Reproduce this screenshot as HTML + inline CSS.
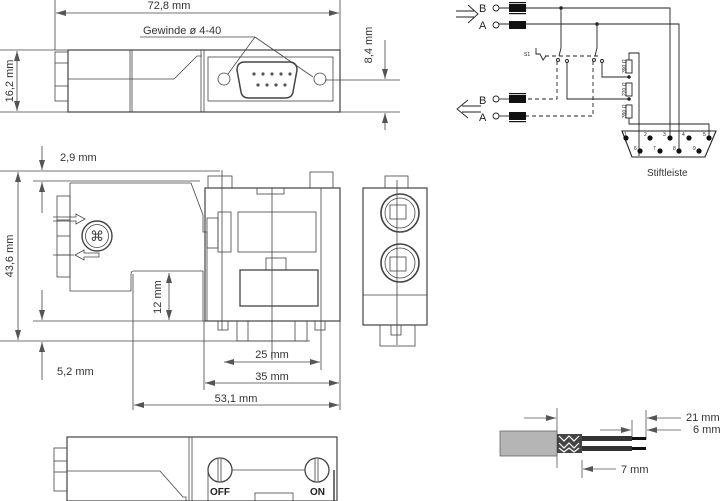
<!DOCTYPE html>
<html><head><meta charset="utf-8"><style>
html,body{margin:0;padding:0;background:#fff;}
svg{display:block;font-family:"Liberation Sans",sans-serif;}
</style></head><body>
<svg width="720" height="501" viewBox="0 0 720 501" xmlns="http://www.w3.org/2000/svg">
<defs>
<marker id="ar" viewBox="0 0 10 6" refX="10" refY="3" markerWidth="10" markerHeight="6" orient="auto-start-reverse" markerUnits="userSpaceOnUse"><path d="M0,0 L10,3 L0,6z" fill="#555"/></marker>
</defs>
<g fill="none" stroke="#444" stroke-width="0.8">
<!-- TOP VIEW -->
<line x1="55" y1="0" x2="55" y2="50"/><line x1="340" y1="0" x2="340" y2="50"/>
<line x1="56" y1="13" x2="339" y2="13" marker-start="url(#ar)" marker-end="url(#ar)"/>
<rect x="55" y="52" width="13" height="49"/>
<line x1="55" y1="63" x2="68" y2="63"/><line x1="55" y1="86" x2="68" y2="86"/>
<rect x="68" y="50" width="272" height="62" stroke-width="1.2"/>
<line x1="130" y1="50" x2="130" y2="112"/><line x1="132" y1="50" x2="132" y2="112"/>
<line x1="201" y1="50" x2="201" y2="112"/><line x1="204" y1="50" x2="204" y2="112"/>
<rect x="208" y="57" width="125" height="44"/>
<path d="M245,62 h44 q8,0 8,8 l-4,22 q-1,6 -8,6 h-36 q-7,0 -8,-6 l-4,-22 q0,-8 8,-8z" stroke-width="1.5"/>
<circle cx="224" cy="79" r="6"/><circle cx="320" cy="79" r="6"/>
<line x1="140" y1="37" x2="255" y2="37"/>
<line x1="255" y1="37" x2="228" y2="74"/><line x1="255" y1="37" x2="313" y2="77"/>
<polyline points="68,79 174,79 197,56 202,56"/>
<line x1="0" y1="50" x2="68" y2="50"/><line x1="0" y1="112" x2="68" y2="112"/>
<line x1="17" y1="51" x2="17" y2="111" marker-start="url(#ar)" marker-end="url(#ar)"/>
<line x1="325" y1="80" x2="400" y2="80"/><line x1="340" y1="112" x2="400" y2="112"/>
<line x1="385" y1="40" x2="385" y2="79" marker-end="url(#ar)"/>
<line x1="385" y1="130" x2="385" y2="113" marker-end="url(#ar)"/>

<!-- SIDE VIEW -->
<line x1="0" y1="171" x2="220" y2="171"/><line x1="33" y1="181" x2="200" y2="181"/>
<line x1="33" y1="321" x2="205" y2="321"/><line x1="0" y1="341" x2="310" y2="341"/>
<line x1="18" y1="172" x2="18" y2="340" marker-start="url(#ar)" marker-end="url(#ar)"/>
<line x1="42" y1="146" x2="42" y2="170" marker-end="url(#ar)"/>
<line x1="42" y1="213" x2="42" y2="182" marker-end="url(#ar)"/>
<line x1="42" y1="290" x2="42" y2="320" marker-end="url(#ar)"/>
<line x1="42" y1="380" x2="42" y2="342" marker-end="url(#ar)"/>
<rect x="57" y="196" width="13" height="81"/>
<line x1="57" y1="220" x2="70" y2="220"/><line x1="57" y1="236" x2="70" y2="236"/><line x1="57" y1="255" x2="70" y2="255"/>
<path d="M70,183 H191 L203,215 V232 H207 V321"/>
<path d="M70,183 V291 H131 V274 q0,-3 3,-3 H203 V321" />
<circle cx="97" cy="236" r="15" stroke-width="1.4"/><circle cx="97" cy="236" r="11.5"/>
<text x="97" y="241" font-size="14" text-anchor="middle" fill="#444" stroke="none">⌘</text>
<path d="M53,217 H76 V214 L85,219 L76,224 V221 H53"/>
<path d="M53,255 H74 M99,253 H84 V250 L75,255 L84,260 V257 H99z"/>
<rect x="205" y="188" width="135" height="133" stroke-width="1.2"/>
<rect x="208" y="176" width="24" height="12"/><rect x="310" y="172" width="23" height="16"/>
<rect x="257" y="188" width="27" height="6"/>
<rect x="238" y="212" width="78" height="40"/>
<rect x="240" y="270" width="78" height="36" stroke-width="1.3"/>
<rect x="266" y="258" width="20" height="12"/>
<rect x="218" y="212" width="13" height="40"/><rect x="207" y="218" width="11" height="30"/>
<line x1="222" y1="170" x2="222" y2="330"/><line x1="272" y1="188" x2="272" y2="360"/><line x1="321" y1="188" x2="321" y2="370"/>
<rect x="218" y="321" width="10" height="9"/><rect x="315" y="321" width="10" height="9"/>
<rect x="237" y="321" width="70" height="20"/>
<line x1="248" y1="321" x2="248" y2="341"/><line x1="295" y1="321" x2="295" y2="341"/>
<line x1="169" y1="273" x2="169" y2="320" marker-start="url(#ar)" marker-end="url(#ar)"/>
<line x1="204" y1="321" x2="204" y2="390"/><line x1="340" y1="321" x2="340" y2="410"/><line x1="133" y1="274" x2="133" y2="410"/>
<line x1="224" y1="362" x2="320" y2="362" marker-start="url(#ar)" marker-end="url(#ar)"/>
<line x1="205" y1="383" x2="339" y2="383" marker-start="url(#ar)" marker-end="url(#ar)"/>
<line x1="134" y1="405" x2="339" y2="405" marker-start="url(#ar)" marker-end="url(#ar)"/>

<!-- END VIEW -->
<rect x="363" y="188" width="64" height="137" stroke-width="1.2"/>
<line x1="363" y1="295" x2="427" y2="295"/>
<rect x="385" y="176" width="23" height="12"/>
<rect x="380" y="325" width="35" height="21"/><rect x="391" y="325" width="10" height="10"/>
<line x1="397" y1="180" x2="397" y2="345"/>
<circle cx="400" cy="213" r="19" stroke-width="1.6"/><circle cx="400" cy="263" r="19" stroke-width="1.6"/>
<circle cx="400" cy="213" r="15"/><circle cx="400" cy="263" r="15"/>
<rect x="390" y="205" width="16" height="14"/><rect x="390" y="257" width="16" height="14"/>

<!-- BOTTOM VIEW -->
<rect x="67" y="437" width="270" height="64" stroke-width="1.2"/>
<rect x="54" y="448" width="13" height="43"/>
<line x1="54" y1="461" x2="67" y2="461"/><line x1="54" y1="472" x2="67" y2="472"/>
<line x1="189" y1="437" x2="189" y2="501"/><line x1="192" y1="437" x2="192" y2="501"/>
<polyline points="67,471 160,471 183,497 186,497 186,501"/>
<circle cx="220" cy="470" r="12" stroke-width="1.3"/><circle cx="317" cy="470" r="12" stroke-width="1.3"/>
<line x1="218" y1="459" x2="218" y2="481"/><line x1="221" y1="459" x2="221" y2="481"/>
<line x1="315" y1="459" x2="315" y2="481"/><line x1="318" y1="459" x2="318" y2="481"/>
<line x1="232" y1="470" x2="305" y2="470"/>
<line x1="208" y1="470" x2="208" y2="501"/><line x1="334" y1="470" x2="334" y2="501" stroke-width="1.5"/>
<rect x="255" y="493" width="38" height="8"/>

<!-- CIRCUIT -->
<g stroke="#222" stroke-width="0.9">
<path d="M456,11 H474 M456,17 H474 M468,5 L478,14 L468,23"/>
<path d="M481,106 H462 M481,112 H462 M468,100 L457,109 L468,118"/>
<circle cx="496" cy="8" r="3"/><circle cx="496" cy="25" r="3"/><circle cx="496" cy="99" r="3"/><circle cx="496" cy="116" r="3"/>
<polyline points="499,8 670,8 670,138"/><polyline points="499,24 679,24 679,150"/>
<line x1="499" y1="99" x2="510" y2="99"/><line x1="499" y1="116" x2="510" y2="116"/>
<polyline points="561,8 561,48 559,56"/><polyline points="597,24 597,48 595,56"/>
<circle cx="558" cy="60" r="1.5"/><circle cx="567" cy="61" r="1.5"/><circle cx="594" cy="60" r="1.5"/><circle cx="602" cy="61" r="1.5"/>
<polyline points="567,62 567,99 629,99"/><polyline points="602,62 602,77 629,77"/>
<path d="M536,48 v6 h4 l3,6 l3,-4" />
<path d="M545,56 H600" stroke-dasharray="4,3"/>
<polyline points="557,61 557,99 525,99" stroke-dasharray="4,3"/>
<polyline points="593,61 593,116 525,116" stroke-dasharray="4,3"/>
<rect x="626" y="60" width="6" height="13"/><rect x="626" y="83" width="6" height="13"/><rect x="626" y="105" width="6" height="13"/>
<polyline points="629,60 629,53 639,53 639,156"/>
<polyline points="629,118 629,124 709,124 709,138"/>
<circle cx="629" cy="77" r="1.3" fill="#222"/><circle cx="629" cy="99" r="1.3" fill="#222"/>
<circle cx="561" cy="8" r="1.3" fill="#222"/><circle cx="597" cy="24" r="1.3" fill="#222"/>
<path d="M622,131 H716 L705,157 H632z" stroke-width="1.1"/>
</g>
</g>
<g fill="#555">
<circle cx="254" cy="74" r="1.6"/><circle cx="263" cy="74" r="1.6"/><circle cx="272" cy="74" r="1.6"/><circle cx="281" cy="74" r="1.6"/><circle cx="290" cy="74" r="1.6"/>
<circle cx="258" cy="85" r="1.6"/><circle cx="267" cy="85" r="1.6"/><circle cx="276" cy="85" r="1.6"/><circle cx="285" cy="85" r="1.6"/>
</g>
<g fill="#111">
<rect x="509" y="4" width="17" height="8"/><rect x="509" y="21" width="17" height="8"/>
<rect x="509" y="95" width="17" height="8"/><rect x="509" y="112" width="17" height="8"/>
<rect x="509" y="2" width="17" height="1.2"/><rect x="509" y="13" width="17" height="1.2"/>
<rect x="509" y="93" width="17" height="1.2"/><rect x="509" y="121" width="17" height="1.2"/>
<circle cx="626" cy="138" r="2.6"/><circle cx="650" cy="138" r="2.6"/><circle cx="670" cy="138" r="2.6"/><circle cx="689" cy="138" r="2.6"/><circle cx="709" cy="138" r="2.6"/>
<circle cx="640" cy="151" r="2.6"/><circle cx="660" cy="151" r="2.6"/><circle cx="679" cy="151" r="2.6"/><circle cx="699" cy="151" r="2.6"/>
</g>
<g fill="#222" font-size="5">
<text x="624" y="136">1</text><text x="644" y="136">2</text><text x="663" y="136">3</text><text x="682" y="136">4</text><text x="703" y="136">5</text>
<text x="634" y="150">6</text><text x="653" y="150">7</text><text x="673" y="150">8</text><text x="693" y="150">9</text>
<text x="524" y="56">S1</text>
<text transform="translate(626,73) rotate(-90)">390 Ω</text>
<text transform="translate(626,96) rotate(-90)">220 Ω</text>
<text transform="translate(626,118) rotate(-90)">390 Ω</text>
</g>
<g fill="#222" font-size="11">
<text x="479" y="12">B</text><text x="479" y="29">A</text><text x="479" y="104">B</text><text x="479" y="121">A</text>
</g>
<text x="647" y="176" font-size="10" fill="#333">Stiftleiste</text>

<!-- CABLE -->
<g fill="none" stroke="#555" stroke-width="0.8">
<line x1="557" y1="408" x2="557" y2="468"/><line x1="582" y1="460" x2="582" y2="478"/>
<line x1="632" y1="420" x2="632" y2="440"/><line x1="646" y1="410" x2="646" y2="440"/>
<line x1="524" y1="418" x2="556" y2="418" marker-end="url(#ar)"/>
<line x1="600" y1="430" x2="631" y2="430" marker-end="url(#ar)"/>
<line x1="681" y1="418" x2="647" y2="418" marker-end="url(#ar)"/>
<line x1="681" y1="430" x2="647" y2="430" marker-end="url(#ar)"/>
<line x1="616" y1="469" x2="583" y2="469" marker-end="url(#ar)"/>
</g>
<rect x="500" y="431" width="57" height="25" fill="#b5b5b5" stroke="#666" stroke-width="0.8"/>
<rect x="557" y="434" width="25" height="19" fill="#444"/>
<path d="M559,436 l5,5 l5,-5 l5,5 l5,-5 M559,443 l5,5 l5,-5 l5,5 l5,-5 M559,448 l5,4 l5,-4 l5,4 l5,-4" stroke="#fff" stroke-width="1.2" fill="none"/>
<rect x="582" y="436" width="50" height="5" fill="#333"/><rect x="582" y="446" width="50" height="5" fill="#333"/>
<rect x="632" y="437" width="14" height="3" fill="#111"/><rect x="632" y="447" width="14" height="3" fill="#111"/>

<!-- TEXT -->
<g fill="#333" font-size="11">
<text x="169" y="9" text-anchor="middle">72,8 mm</text>
<text x="143" y="34">Gewinde ø 4-40</text>
<text transform="translate(13,81) rotate(-90)" text-anchor="middle">16,2 mm</text>
<text transform="translate(372,45) rotate(-90)" text-anchor="middle">8,4 mm</text>
<text x="60" y="161">2,9 mm</text>
<text transform="translate(13,256) rotate(-90)" text-anchor="middle">43,6 mm</text>
<text transform="translate(161,297) rotate(-90)" text-anchor="middle">12 mm</text>
<text x="57" y="375">5,2 mm</text>
<text x="272" y="358" text-anchor="middle">25 mm</text>
<text x="272" y="380" text-anchor="middle">35 mm</text>
<text x="236" y="402" text-anchor="middle">53,1 mm</text>
<text x="686" y="421">21 mm</text><text x="693" y="433">6 mm</text>
<text x="621" y="473">7 mm</text>
</g>
<g fill="#222" font-size="10" font-weight="bold">
<text x="210" y="495">OFF</text><text x="310" y="495">ON</text>
</g>
</svg>
</body></html>
